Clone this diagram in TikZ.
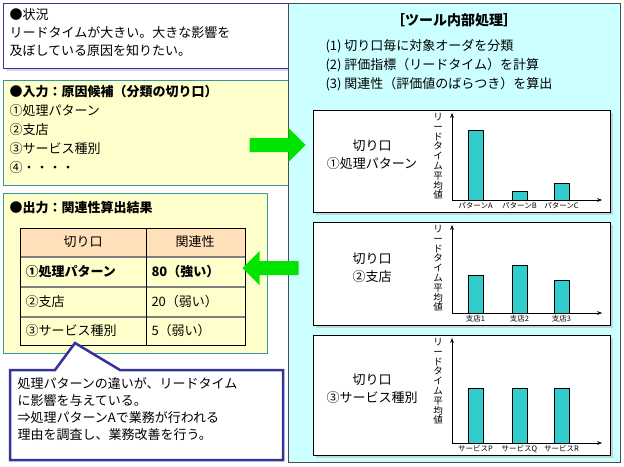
\documentclass[tikz,border=0pt]{standalone}
\usepackage{fontspec}
\setmainfont{Noto Sans CJK JP}
\usetikzlibrary{arrows.meta,shadows,shapes.arrows}

\definecolor{panelblue}{HTML}{CCFFFF}
\definecolor{noteyellow}{HTML}{FFFFCC}
\definecolor{frameteal}{HTML}{339999}
\definecolor{navy}{HTML}{333399}
\definecolor{barcyan}{HTML}{33CCCC}
\definecolor{headpeach}{HTML}{FFE0B8}

\tikzset{
  chartbox/.style={draw=black, fill=white, drop shadow={shadow xshift=3pt, shadow yshift=-3pt, fill=gray!60}},
  chartbar/.style={draw=black, fill=barcyan},
  ticklabel/.style={font=\fontsize{7.5}{8}\selectfont, inner sep=0pt},
  bigarrow/.style={single arrow, fill=green!90!black, draw=none, minimum height=56pt, minimum width=34pt, single arrow head extend=6pt, inner sep=4pt}
}

\begin{document}
\begin{tikzpicture}[x=1pt,y=-1pt,>=Stealth]
\useasboundingbox (0,0) rectangle (624,466);

%%% LEFT SIDE

% Situation
\draw[navy, thick, fill=white, drop shadow={shadow xshift=3pt, shadow yshift=-3pt, fill=gray!60}] (3,3) rectangle (292,68);
\node[anchor=north west, align=left, font=\fontsize{13}{18}\selectfont] (situation) at (6,5)
  {●状況\\リードタイムが大きい。大きな影響を\\及ぼしている原因を知りたい。};

% Input
\draw[frameteal, fill=noteyellow] (3,80) rectangle (292,185);
\node[anchor=north west, align=left, font=\fontsize{13}{19}\selectfont] (input) at (6,82)
  {\textbf{●入力：原因候補（分類の切り口）}\\①処理パターン\\②支店\\③サービス種別\\④・・・・};

% Output
\draw[frameteal, fill=noteyellow] (3,193) rectangle (267,353);
\node[anchor=north west, font=\fontsize{13}{15}\selectfont\bfseries] (output) at (6,198) {●出力：関連性算出結果};

% Table
\fill[headpeach] (20,228) rectangle (245,257);
\draw[white!50!black, line width=1.2pt] (20,257) -- (245,257) (20,287) -- (245,287) (20,317) -- (245,317);
\draw (20,228) rectangle (245,345) (146,228) -- (146,345);
\begin{scope}[font=\fontsize{13}{15}\selectfont]
\node (h1) at (83,242) {切り口};
\node (h2) at (195,242) {関連性};
\node[anchor=west] (r1a) at (22,272) {\textbf{①処理パターン}};
\node[anchor=west] (r1b) at (148,272) {\textbf{80（強い）}};
\node[anchor=west] (r2a) at (22,302) {②支店};
\node[anchor=west] (r2b) at (148,302) {20（弱い）};
\node[anchor=west] (r3a) at (22,331) {③サービス種別};
\node[anchor=west] (r3b) at (148,331) {5（弱い）};
\end{scope}

% Callout
\draw[navy, line width=2.5pt, fill=white, line join=miter]
  (10,370) -- (55,370) -- (75,343) -- (120,370) -- (283,370) -- (283,460) -- (10,460) -- cycle;
\node[anchor=north west, align=left, font=\fontsize{13}{17}\selectfont] (note) at (14,374)
  {処理パターンの違いが、リードタイム\\に影響を与えている。\\⇒処理パターンAで業務が行われる\\理由を調査し、業務改善を行う。};

%%% RIGHT SIDE

\draw[fill=panelblue, draw=black!70] (288,3) rectangle (620,462);
\node[font=\fontsize{14}{16}\selectfont\bfseries] (tooltitle) at (454,20) {［ツール内部処理］};
\node[anchor=north west, align=left, font=\fontsize{13}{19}\selectfont] (steps) at (322,36)
  {(1) 切り口毎に対象オーダを分類\\(2) 評価指標（リードタイム）を計算\\(3) 関連性（評価値のばらつき）を算出};

% Charts
\foreach \top/\bot/\cutname/\ta/\tb/\tc/\la/\lb/\lc [count=\i] in {
    110/212/①処理パターン/130/191/183/パターンA/パターンB/パターンC,
    222/325/②支店/275/265/280/支店1/支店2/支店3,
    335/455/③サービス種別/388/388/388/サービスP/サービスQ/サービスR} {
  \draw[chartbox] (313,\top) rectangle (610,\bot);
  \pgfmathsetmacro{\ax}{\bot-12}
  \node[align=center, font=\fontsize{13}{18}\selectfont] (cut\i) at (372,{(\top+\ax)/2}) {切り口\\\cutname};
  \draw[->] (452,\ax) -- (452,\top+3);
  \draw[->] (452,\ax) -- (602,\ax);
  \draw[chartbar] (468,\ax) rectangle (483,\ta);
  \draw[chartbar] (512,\ax) rectangle (527,\tb);
  \draw[chartbar] (554,\ax) rectangle (569,\tc);
  \node[ticklabel] (la\i) at (475.5,\ax+6) {\la};
  \node[ticklabel] (lb\i) at (519.5,\ax+6) {\lb};
  \node[ticklabel] (lc\i) at (561.5,\ax+6) {\lc};
  \node[anchor=north, align=center, font=\fontsize{9.5}{9.8}\selectfont, inner sep=0pt] (ylab\i) at (438,\top+3)
    {リ\\ー\\ド\\タ\\イ\\ム\\平\\均\\値};
}

% Arrows
\node[bigarrow] (inarrow) at (274,145) {};
\node[bigarrow, shape border rotate=180] (outarrow) at (274,268) {};

\end{tikzpicture}
\end{document}
